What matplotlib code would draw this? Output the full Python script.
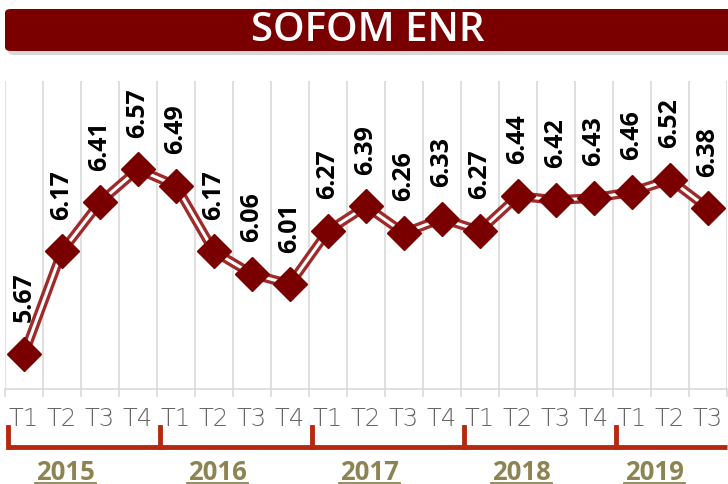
import matplotlib
matplotlib.use("Agg")
import matplotlib.pyplot as plt
from matplotlib.patches import FancyBboxPatch
from matplotlib.lines import Line2D
import matplotlib.transforms as mtransforms

# ---- data ----
quarters = ["T1", "T2", "T3", "T4",
            "T1", "T2", "T3", "T4",
            "T1", "T2", "T3", "T4",
            "T1", "T2", "T3", "T4",
            "T1", "T2", "T3"]
values = [5.67, 6.17, 6.41, 6.57,
          6.49, 6.17, 6.06, 6.01,
          6.27, 6.39, 6.26, 6.33,
          6.27, 6.44, 6.42, 6.43,
          6.46, 6.52, 6.38]
years = ["2015", "2016", "2017", "2018", "2019"]
year_counts = [4, 4, 4, 4, 3]
title = "SOFOM ENR"

DARK = "#7A0000"
LINE = "#9E2A2A"

fig = plt.figure(figsize=(7.28, 4.85), dpi=100)
fig.patch.set_facecolor("white")

W, H = 728, 485
ax = fig.add_axes([5 / W, 1 - 390 / H, 722 / W, 308 / H])
ax.set_facecolor("none")

x = list(range(len(values)))
ax.set_xlim(-0.5, len(values) - 0.5)
ax.set_ylim(5.5, 7.0)

# grid lines at category boundaries
bounds = [i - 0.5 for i in range(len(values) + 1)]
ax.set_xticks(bounds, minor=True)
ax.grid(which="minor", axis="x", color="#d9d9d9", lw=1.2)
ax.tick_params(which="minor", axis="x", length=6, color="#d9d9d9", width=1.2)
ax.set_xticks(x)
ax.set_xticklabels(quarters, family="DejaVu Sans", fontweight="light", fontsize=17.5,
                   color="#666666")
ax.tick_params(which="major", axis="x", length=0, pad=12)
ax.set_yticks([])
for s in ["top", "left", "right"]:
    ax.spines[s].set_visible(False)
ax.spines["bottom"].set_color("#d9d9d9")
ax.spines["bottom"].set_linewidth(1.2)

# double line
ax.plot(x, values, color=LINE, lw=7, solid_joinstyle="miter", zorder=3)
ax.plot(x, values, color="white", lw=2.2, solid_joinstyle="miter", zorder=4)
ax.plot(x, values, ls="none", marker="D", ms=17, color=DARK, mec=DARK, zorder=5)

for xi, v in zip(x, values):
    ax.annotate(f"{v:.2f}", (xi, v), xytext=(0, 23.5), textcoords="offset points",
                rotation=90, ha="center", va="bottom", family="Open Sans",
                fontweight="bold", fontsize=18, color="black", zorder=6)

# year brackets
trans = mtransforms.blended_transform_factory(ax.transData, ax.transAxes)
RED = "#B52A0E"
y_line = -(448 - 390) / 308
y_top = -(428 - 390) / 308
ax.add_line(Line2D([-0.42, len(values) - 0.5], [y_line, y_line], transform=trans,
                   color=RED, lw=3.5, clip_on=False, solid_capstyle="butt"))
start = 0
for yr, n in zip(years, year_counts):
    ax.add_line(Line2D([start - 0.42, start - 0.42], [y_top, y_line], transform=trans,
                       color=RED, lw=3.5, clip_on=False, solid_capstyle="projecting"))
    cx = start + (n - 1) / 2 - 0.4
    ax.text(cx, -(473 - 390) / 308, yr, transform=trans, ha="center", va="center",
            family="Open Sans", fontweight="bold", fontsize=18.5, color="#8C8453")
    ax.add_line(Line2D([cx - 0.8, cx + 0.8], [-(484 - 390) / 308] * 2, transform=trans,
                       color="#8C8453", lw=1.3, clip_on=False))
    start += n

# title bar
shadow = FancyBboxPatch((8 / W, 1 - 56 / H), 730 / W, 44 / H,
                        boxstyle="round,pad=0,rounding_size=0.008",
                        transform=fig.transFigure, fc="#bdbdbd", ec="none", alpha=0.6)
fig.patches.append(shadow)
bar = FancyBboxPatch((5 / W, 1 - 52 / H), 730 / W, 42 / H,
                     boxstyle="round,pad=0,rounding_size=0.008",
                     transform=fig.transFigure, fc=DARK, ec="none")
fig.patches.append(bar)
fig.text(368 / W, 1 - 31 / H, title, ha="center", va="center", family="Open Sans",
         fontweight="semibold", fontsize=29, color="white")

fig.savefig("out.png", dpi=100)
